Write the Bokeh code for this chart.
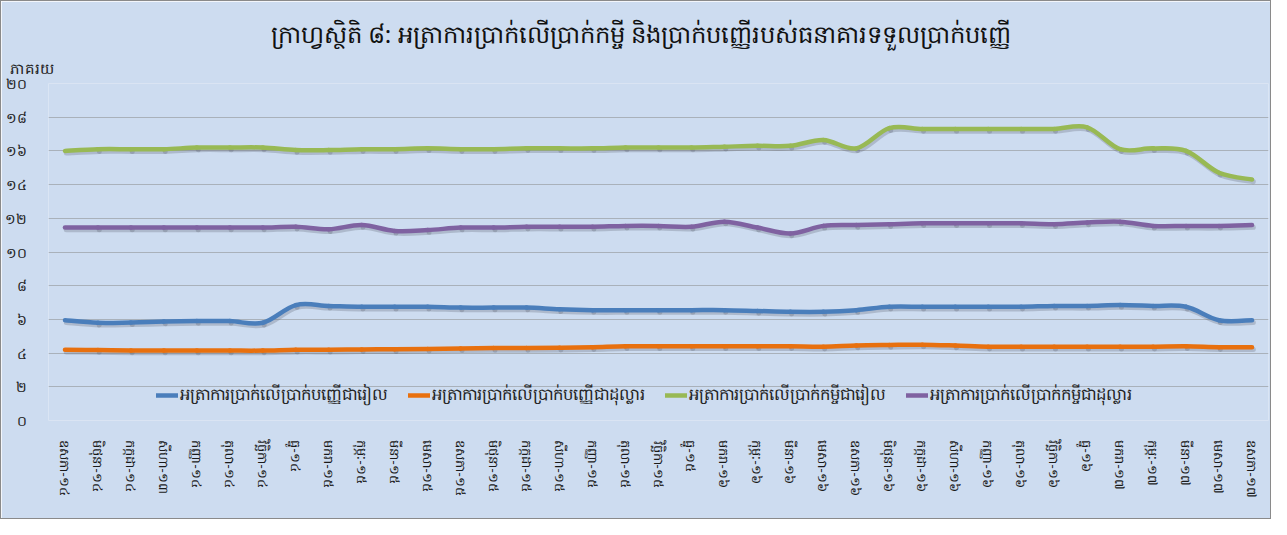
from bokeh.plotting import figure
from bokeh.models import FixedTicker, Legend, LegendItem, Title
from bokeh.embed import file_html
from bokeh.resources import INLINE

months = ["ឧសភា-១៤", "មិថុនា-១៤", "កក្កដា-១៤", "សីហា-១៣", "កញ្ញា-១៤", "តុលា-១៤", "វិច្ឆិកា-១៤", "ធ្នូ-១៤",
          "មករា-១៥", "កុម្ភៈ-១៥", "មីនា-១៥", "មេសា-១៥", "ឧសភា-១៥", "មិថុនា-១៥", "កក្កដា-១៥", "សីហា-១៥",
          "កញ្ញា-១៥", "តុលា-១៥", "វិច្ឆិកា-១៥", "ធ្នូ-១៥", "មករា-១៦", "កុម្ភៈ-១៦", "មីនា-១៦", "មេសា-១៦",
          "ឧសភា-១៦", "មិថុនា-១៦", "កក្កដា-១៦", "សីហា-១៦", "កញ្ញា-១៦", "តុលា-១៦", "វិច្ឆិកា-១៦", "ធ្នូ-១៦",
          "មករា-១៧", "កុម្ភៈ-១៧", "មីនា-១៧", "មេសា-១៧", "ឧសភា-១៧"]

deposit_riel = [5.95, 5.8, 5.82, 5.87, 5.9, 5.9, 5.8, 6.85, 6.8, 6.75, 6.75, 6.75, 6.7, 6.7, 6.7, 6.6,
                6.55, 6.55, 6.55, 6.55, 6.55, 6.5, 6.45, 6.45, 6.55, 6.75, 6.75, 6.75, 6.75, 6.75, 6.8,
                6.8, 6.85, 6.8, 6.75, 5.95, 5.95]
deposit_usd = [4.2, 4.18, 4.15, 4.15, 4.15, 4.15, 4.15, 4.2, 4.2, 4.22, 4.23, 4.25, 4.28, 4.3, 4.3, 4.32,
               4.35, 4.4, 4.4, 4.4, 4.4, 4.4, 4.4, 4.38, 4.45, 4.48, 4.5, 4.45, 4.38, 4.38, 4.38,
               4.38, 4.38, 4.38, 4.4, 4.35, 4.35]
loan_riel = [16.0, 16.1, 16.1, 16.1, 16.2, 16.2, 16.2, 16.05, 16.05, 16.1, 16.1, 16.15, 16.1, 16.1, 16.15,
             16.15, 16.15, 16.2, 16.2, 16.2, 16.25, 16.3, 16.3, 16.65, 16.15, 17.35, 17.3, 17.3, 17.3,
             17.3, 17.3, 17.4, 16.1, 16.15, 16.0, 14.7, 14.3]
loan_usd = [11.45, 11.45, 11.45, 11.45, 11.45, 11.45, 11.45, 11.5, 11.35, 11.6, 11.25, 11.3, 11.45, 11.45,
            11.5, 11.5, 11.5, 11.55, 11.55, 11.5, 11.8, 11.45, 11.1, 11.55, 11.6, 11.65, 11.7, 11.7,
            11.7, 11.7, 11.65, 11.75, 11.8, 11.55, 11.55, 11.55, 11.6]

series_names = ["អត្រាការប្រាក់លើប្រាក់បញ្ញើជារៀល", "អត្រាការប្រាក់លើប្រាក់បញ្ញើជាដុល្លារ",
                "អត្រាការប្រាក់លើប្រាក់កម្ចីជារៀល", "អត្រាការប្រាក់លើប្រាក់កម្ចីជាដុល្លារ"]
y_ticks = [0, 2, 4, 6, 8, 10, 12, 14, 16, 18, 20]
y_tick_labels = ["០", "២", "៤", "៦", "៨", "១០", "១២", "១៤", "១៦", "១៨", "២០"]
title_text = "ក្រាហ្វស្ថិតិ ៨: អត្រាការប្រាក់លើប្រាក់កម្ចី និងប្រាក់បញ្ញើរបស់ធនាគារទទួលប្រាក់បញ្ញើ"
unit_text = "ភាគរយ"

FONT = "Noto Sans"
BG = "#cddcf0"
colors = ["#4a7ebb", "#e8700e", "#98b954", "#7f62a1"]

p = figure(width=1271, height=519, output_backend="svg", toolbar_location=None, title=None,
           x_range=(-0.5, len(months) - 0.5), y_range=(0, 20),
           min_border_left=42, min_border_right=4, min_border_top=82, min_border_bottom=100,
           background_fill_color=BG, border_fill_color=BG)
p.outline_line_color = None
p.styles = {"border": "1px solid #8a8a8a"}

unit_title = Title(text=unit_text, align="left", offset=-39, text_font=FONT, text_font_size="15px",
                   text_font_style="normal", text_color="#222222", standoff=12, text_line_height=0.7)
p.add_layout(unit_title, "above")
main_title = Title(text=title_text, align="left", offset=222, text_font=FONT, text_font_size="24.3px",
                   text_font_style="normal", text_color="#111111", standoff=0)
p.add_layout(main_title, "above")

p.xaxis.ticker = FixedTicker(ticks=list(range(len(months))))
p.xaxis.major_label_overrides = {i: m for i, m in enumerate(months)}
p.xaxis.major_label_orientation = "vertical"
p.xaxis.major_label_text_font = FONT
p.xaxis.major_label_text_font_size = "13px"
p.xaxis.major_label_text_color = "#1a1a1a"
p.xaxis.axis_line_color = None
p.xaxis.major_tick_line_color = None
p.xaxis.minor_tick_line_color = None
p.xaxis.major_label_standoff = 14

p.yaxis.ticker = FixedTicker(ticks=y_ticks)
p.yaxis.major_label_overrides = {v: s for v, s in zip(y_ticks, y_tick_labels)}
p.yaxis.major_label_text_font = FONT
p.yaxis.major_label_text_font_size = "14px"
p.yaxis.major_label_text_color = "#222222"
p.yaxis.axis_line_color = None
p.yaxis.major_tick_line_color = None
p.yaxis.minor_tick_line_color = None
p.yaxis.major_label_standoff = 16

p.xgrid.grid_line_color = None
p.ygrid.grid_line_color = "#a9b1ba"
p.ygrid.grid_line_width = 1


def smooth(xs, ys):
    n = len(xs)
    x0, y0, x1, y1, cx0, cy0, cx1, cy1 = [], [], [], [], [], [], [], []
    for i in range(n - 1):
        xm, ym = (xs[i - 1], ys[i - 1]) if i > 0 else (xs[i], ys[i])
        xp, yp = (xs[i + 2], ys[i + 2]) if i + 2 < n else (xs[i + 1], ys[i + 1])
        x0.append(xs[i]); y0.append(ys[i]); x1.append(xs[i + 1]); y1.append(ys[i + 1])
        cx0.append(xs[i] + (xs[i + 1] - xm) / 6.0); cy0.append(ys[i] + (ys[i + 1] - ym) / 6.0)
        cx1.append(xs[i + 1] - (xp - xs[i]) / 6.0); cy1.append(ys[i + 1] - (yp - ys[i]) / 6.0)
    return dict(x0=x0, y0=y0, x1=x1, y1=y1, cx0=cx0, cy0=cy0, cx1=cx1, cy1=cy1)


xs = list(range(len(months)))
all_series = [deposit_riel, deposit_usd, loan_riel, loan_usd]
items = []
for name, ys, col in zip(series_names, all_series, colors):
    sh = smooth([x + 0.04 for x in xs], [y - 0.13 for y in ys])
    p.bezier(line_color="#5a6270", line_alpha=0.28, line_width=5, line_cap="round", **sh)
for name, ys, col in zip(series_names, all_series, colors):
    r = p.bezier(line_color=col, line_width=4.5, line_cap="round", **smooth(xs, ys))
    items.append(LegendItem(label=name, renderers=[r]))

legend = Legend(items=items, orientation="horizontal", location=(108, 12),
                background_fill_alpha=0, border_line_color=None,
                label_text_font=FONT, label_text_font_size="16.5px", label_text_color="#222222",
                glyph_width=22, glyph_height=14, spacing=20, label_standoff=2, padding=0, margin=0)
p.add_layout(legend, "center")

open("out.html", "w").write(file_html(p, INLINE))
